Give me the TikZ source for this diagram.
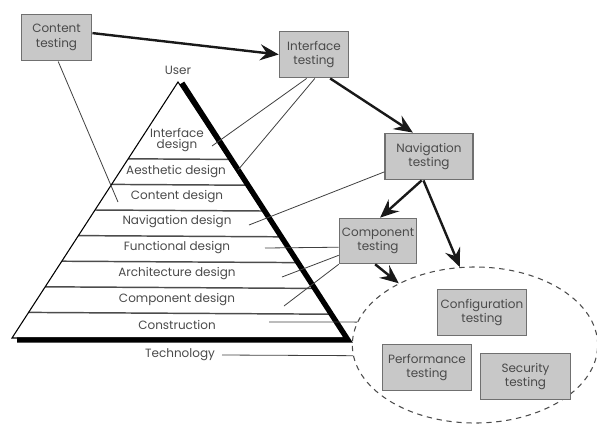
\documentclass[tikz,border=0pt]{standalone}
\usepackage{fontspec}
\setmainfont{Poppins}
\usetikzlibrary{arrows.meta,shapes.geometric,calc}

\definecolor{boxgray}{HTML}{C8C8C8}
\definecolor{edgegray}{HTML}{707070}
\definecolor{inkgray}{HTML}{4A4A4A}

\tikzset{
  testbox/.style={draw=edgegray, fill=boxgray, line width=0.9pt, align=center,
    text=inkgray, font=\fontsize{9}{11}\selectfont, inner sep=0pt,
    minimum height=35pt},
  lvl/.style={text=inkgray, font=\fontsize{9}{10.5}\selectfont, align=center, inner sep=1pt},
  link/.style={draw=black!75, line width=0.6pt},
  layer/.style={draw=black!70, line width=1.1pt},
  flow/.style={draw=black!90, line width=1.8pt, -{Stealth[length=14pt,width=12pt,inset=5pt]}}
}

\begin{document}
\begin{tikzpicture}[x=0.75pt,y=-0.75pt]
	\useasboundingbox (0,0) rectangle (597,426);

	% Pyramid corners
	\coordinate (apex) at (178,82);
	\coordinate (bl) at (12,338);
	\coordinate (br) at (346,338);
	\coordinate (sh) at (348,340);

	% Draw layer lines
	\foreach \t in {0.3,0.4,0.5,0.6,0.7,0.8,0.9}
		\draw[layer] ($(apex)!\t!(bl)$) -- ($(apex)!\t!(sh)$);

	% Draw pyramid with its shadow
	\draw[line width=0.8pt] (apex) -- (bl) -- (br) -- cycle;
	\draw[line width=4pt,line join=miter] (182,83) -- (sh) -- (17,340);

	% Pyramid labels
	\node[lvl] (user) at (178,70) {User};
	\node[lvl] (ides) at (177,140) {Interface\\[-2pt]design};
	\node[lvl] (ades) at (176,172) {Aesthetic design};
	\node[lvl] (cdes) at (177,197) {Content design};
	\node[lvl] (ndes) at (177,222) {Navigation design};
	\node[lvl] (fdes) at (177,248) {Functional design};
	\node[lvl] (archdes) at (177,274) {Architecture design};
	\node[lvl] (compdes) at (177,300) {Component design};
	\node[lvl] (cons) at (177,325) {Construction};
	\node[lvl] (tech) at (180,355) {Technology};

	% Free ends of the links
	\coordinate (idesend) at (212,146);
	\coordinate (adesend) at (238,170);
	\coordinate (cdesend) at (118,202);
	\coordinate (ndesend) at (249,225);
	\coordinate (fdesend) at (265,248);
	\coordinate (archend) at (282,277);
	\coordinate (compend) at (284,306);
	\coordinate (consend) at (269,322);
	\coordinate (techend) at (222,355);

	% Testing boxes
	\node[testbox,minimum width=53pt] (ctest) at (56.5,37.5) {Content\\testing};
	\node[testbox,minimum width=52pt] (itest) at (314,54.5) {Interface\\testing};
	\node[testbox,minimum width=66pt] (ntest) at (429,156.5) {Navigation\\testing};
	\node[testbox,minimum width=58pt,minimum height=34pt] (comptest) at (378,241) {Component\\testing};
	\node[draw=black!70,dashed,dash pattern=on 4pt off 3.5pt,line width=0.8pt,
		ellipse,minimum width=184pt,minimum height=117pt,inner sep=0pt] (suite) at (475,345) {};
	\node[testbox,minimum width=67pt] (cfgtest) at (482,312.5) {Configuration\\testing};
	\node[testbox,minimum width=67pt] (perftest) at (427,367.5) {Performance\\testing};
	\node[testbox,minimum width=67pt] (sectest) at (525.5,376.5) {Security\\testing};

	% Draw links to the design layers
	\draw[link] (ctest.-86) -- (cdesend);
	\draw[link] (itest.-107) -- (idesend);
	\draw[link] (itest.-88) -- (adesend);
	\draw[link] (ntest.199) -- (ndesend);
	\draw[link] (comptest.189) -- (fdesend);
	\draw[link] (comptest.200) -- (archend);
	\draw[link] (comptest.south west) -- (compend);
	\draw[link] (consend) -- (suite.169);
	\draw[link] (techend) -- (suite.185);

	% Draw test flow
	\draw[flow] (ctest.7) -- (itest.west);
	\draw[flow] (itest.-56) -- (ntest.124);
	\draw[flow] (ntest.-107) -- (comptest.85);
	\draw[flow] (ntest.-103) -- (suite.101);
	\draw[flow] (comptest.-97) -- (suite.141);

\end{tikzpicture}
\end{document}
